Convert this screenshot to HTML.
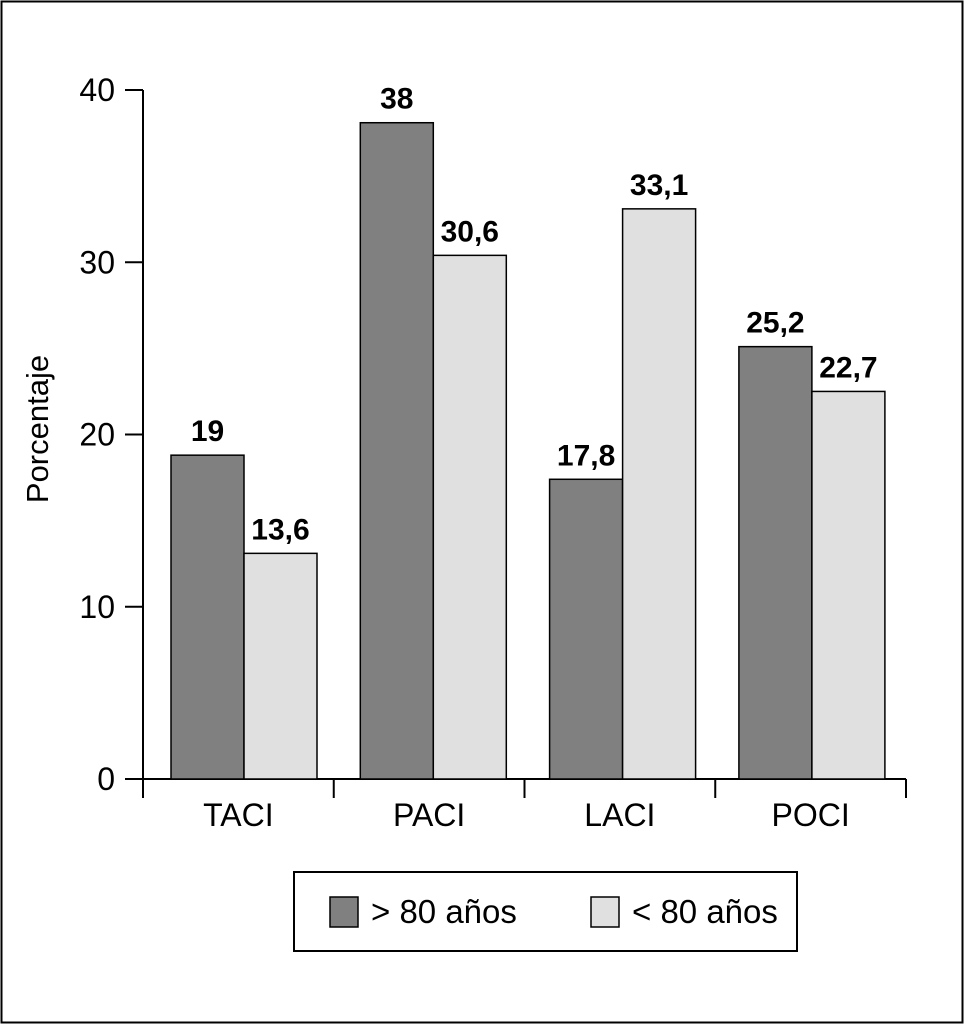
<!DOCTYPE html>
<html><head><meta charset="utf-8"><style>
body{margin:0;background:#fff;}
svg{display:block;font-family:"Liberation Sans",Arial,sans-serif;}
</style></head><body>
<svg id="chart" width="965" height="1025" viewBox="0 0 965 1025">
<rect x="1.5" y="1.5" width="961" height="1021" fill="#fff" stroke="#000" stroke-width="2"/>
<g id="axes"></g>
<g id="bars"></g>
<g id="legend">
<rect x="294" y="872" width="503" height="79" fill="#fff" stroke="#000" stroke-width="2"/>
<rect x="330" y="897" width="28" height="30" fill="#808080" stroke="#000" stroke-width="1.5"/>
<text x="371" y="923" font-size="33">&gt; 80 años</text>
<rect x="591" y="897" width="28" height="30" fill="#e0e0e0" stroke="#000" stroke-width="1.5"/>
<text x="632" y="923" font-size="33">&lt; 80 años</text>
</g>
<text transform="translate(48,429) rotate(-90)" text-anchor="middle" font-size="31">Porcentaje</text>
</svg>
<script>
const categories = ["TACI","PACI","LACI","POCI"];
const over80 = [18.8, 38.1, 17.4, 25.1];
const under80 = [13.1, 30.4, 33.1, 22.5];
const over80Labels = ["19","38","17,8","25,2"];
const under80Labels = ["13,6","30,6","33,1","22,7"];
const yTicks = [0,10,20,30,40];

const NS="http://www.w3.org/2000/svg";
const x0=143,x1=906,yBase=779,yTop=90,yMax=40;
const groupW=(x1-x0)/categories.length;
const barStep=189.3;
function y(v){return yBase-(v/yMax)*(yBase-yTop);}
function mk(tag,attrs,parent,txt){const e=document.createElementNS(NS,tag);for(const k in attrs)e.setAttribute(k,attrs[k]);if(txt!==undefined)e.textContent=txt;parent.appendChild(e);return e;}
const axes=document.getElementById('axes'), bars=document.getElementById('bars');

let l=mk('line',{x1:x0,y1:yTop,x2:x0,y2:yBase,stroke:'#000','stroke-width':2},axes);


l=mk('line',{x1:x0,y1:yBase,x2:x1,y2:yBase,stroke:'#000','stroke-width':2},axes);


yTicks.forEach(t=>{
  const tk=mk('line',{x1:125,y1:y(t),x2:x0,y2:y(t),stroke:'#000','stroke-width':2},axes);
  
  
  const tx=mk('text',{x:115,y:y(t)+11,'text-anchor':'end','font-size':32},axes,String(t));
  
  
});
for(let i=0;i<=categories.length;i++){
  const xx=x0+i*groupW;
  const tk=mk('line',{x1:xx,y1:yBase,x2:xx,y2:798,stroke:'#000','stroke-width':2},axes);
  
  
}
const bw=73;
categories.forEach((c,i)=>{
  const gx=x0+i*groupW;
  const cl=mk('text',{x:gx+groupW/2,y:826,'text-anchor':'middle','font-size':32},axes,c);
  
  
  [[over80[i],'#808080',over80Labels[i],'over-80'],[under80[i],'#e0e0e0',under80Labels[i],'under-80']].forEach((s,j)=>{
    const bx=171+i*barStep+j*bw;
    const r=mk('rect',{x:bx,y:y(s[0]),width:bw,height:yBase-y(s[0]),fill:s[1],stroke:'#000','stroke-width':1.5},bars);
    
    
    const t=mk('text',{x:bx+bw/2,y:y(s[0])-14,'text-anchor':'middle','font-size':30,'font-weight':'bold'},bars,s[2]);
    
    
  });
});
</script>
</body></html>
